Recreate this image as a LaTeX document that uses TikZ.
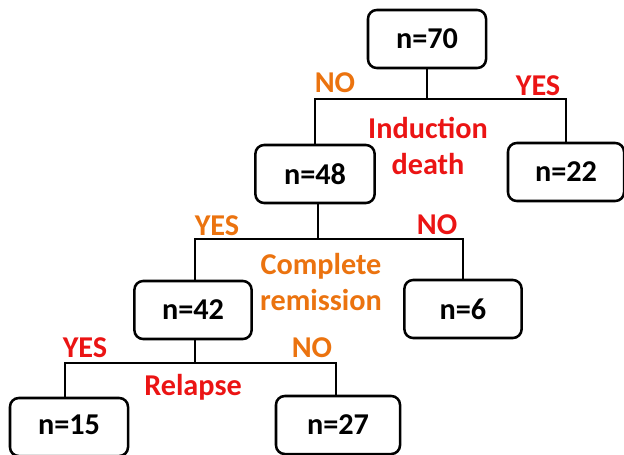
\documentclass[tikz,border=0pt]{standalone}
\usepackage{fontspec}
\setmainfont{Carlito}
\definecolor{yesred}{RGB}{235,20,20}
\definecolor{noorange}{RGB}{235,115,15}
\tikzset{
  count/.style={draw, line width=1.8pt, rounded corners=0.22cm, fill=white,
                minimum width=2.95cm, minimum height=1.45cm, inner sep=0pt},
  answer/.style={font=\fontsize{21.5}{25.5}\selectfont\bfseries, inner sep=0pt},
  question/.style={answer, align=center}
}
\begin{document}
\begin{tikzpicture}[x=0.025cm, y=-0.025cm]
      \clip (0,0) rectangle (624,454);
      \useasboundingbox (0,0) rectangle (624,454);

      \foreach \nm/\px/\py/\bw in {n70/427/39/2.95cm,
                                   n22/566/172/2.9cm,
                                   n48/315/174/2.98cm,
                                   n42/193/310/2.93cm,
                                   n6/463/309/2.93cm,
                                   n15/69/427/2.95cm,
                                   n27/338/425/3.1cm}
      {\node[count, minimum width=\bw] (\nm) at (\px,\py) {};
      };
      \node[answer] at (n70) {n=70};
      \node[answer] at (n22) {n=22};
      \node[answer] at (n48) {n=48};
      \node[answer] at (n42) {n=42};
      \node[answer] at (n6) {n=6};
      \node[answer] at ([yshift=0.05cm]n15) {n=15};
      \node[answer] at ([yshift=0.02cm]n27) {n=27};

      \coordinate (split1) at (427,99);
      \coordinate (split2) at (318,239);
      \coordinate (split3) at (195,363);

      \begin{scope}[line width=1.4pt]
      \draw (n70) -- (split1);
      \draw (n48.north) |- (split1) -| (n22.north);
      \draw (n48.south -| split2) -- (split2);
      \draw (n42.north -| split3) |- (split2) -| (n6.north);
      \draw (n42.south -| split3) -- (split3);
      \draw ([xshift=-0.1cm]n15.north) |- (split3) -| ([xshift=-0.05cm]n27.north);
      \end{scope}

      \node[answer, noorange] (no1) at (335,83) {NO};
      \node[answer, yesred] (yes1) at (538,86) {YES};
      \node[question, yesred] (death) at (428,146) {Induction\\death};

      \node[answer, noorange] (yes2) at (217,226) {YES};
      \node[answer, yesred] (no2) at (437,225) {NO};
      \node[question, noorange] (remission) at (321,282) {Complete\\remission};

      \node[answer, yesred] (yes3) at (85,348) {YES};
      \node[answer, noorange] (no3) at (312,348) {NO};
      \node[answer, yesred] (relapse) at (193,387) {Relapse};
    \end{tikzpicture}
\end{document}
